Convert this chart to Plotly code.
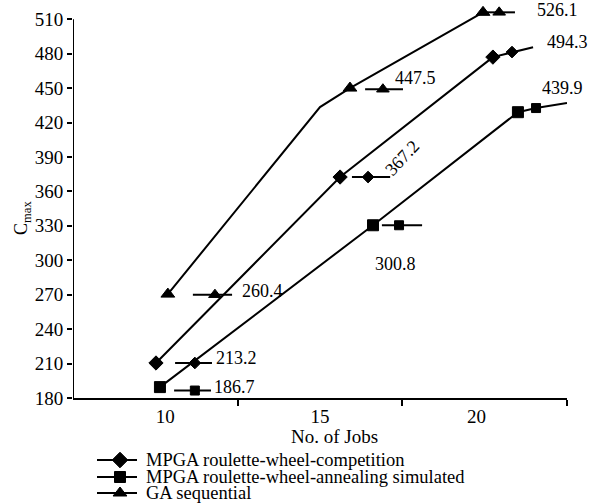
import plotly.graph_objects as go

W, H = 595, 504
# ---------------- data ----------------
# main series (x = No. of Jobs axis position, y = Cmax)
comp_x = [10.02, 15.61, 20.25]
comp_y = [210.5, 372.5, 477.0]
ann_x = [10.14, 16.61, 21.01]
ann_y = [189.5, 330.5, 429.0]
ga_x = [10.38, 15.0, 15.91, 19.95]
ga_y = [270.5, 433.5, 450.0, 516.0]
ga_marker = [True, False, True, True]

# value callouts: (series, key-line x, key-line y, label, label x, label y)
callout_series = ["comp", "ann", "ga", "comp", "ann", "ga", "ga", "comp", "ann"]
callout_line_x = [[10.6, 11.2, 11.72], [10.57, 11.2, 11.69], [11.14, 11.81, 12.33],
                  [15.97, 16.46, 17.13], [16.88, 17.4, 18.1], [16.37, 16.91, 17.52],
                  [19.95, 20.44, 20.92], [20.25, 20.83, 21.47], [21.01, 21.56, 22.5]]
callout_line_y = [[210.5, 210.5, 210.5], [186.5, 186.5, 186.5], [270.0, 270.0, 270.0],
                  [372.5, 372.5, 372.5], [330.5, 330.5, 330.5], [449.0, 449.0, 449.0],
                  [516.0, 516.0, 516.0], [477.0, 481.4, 485.6], [429.0, 432.6, 437.0]]
callout_text = ["213.2", "186.7", "260.4", "367.2", "300.8", "447.5", "526.1", "494.3", "439.9"]
callout_tx = [11.78, 11.72, 12.57, 17.49, 17.28, 17.22, 21.53, 21.83, 21.68]
callout_ty = [214.8, 189.6, 273.0, 389.0, 296.7, 458.7, 518.0, 490.0, 450.0]
callout_anchor = ["left", "left", "left", "center", "center", "left", "left", "left", "left"]
callout_angle = [0, 0, 0, -47, 0, 0, 0, 0, 0]

x_tickvals = [10.3, 15.0, 19.75]
x_ticktext = ["10", "15", "20"]
x_bounds = [12.5, 17.5, 22.5]
y_ticks = list(range(180, 511, 30))

legend_names = ["MPGA roulette-wheel-competition", "MPGA roulette-wheel-annealing simulated", "GA sequential"]
legend_keys = ["comp", "ann", "ga"]

# ---------------- styles ----------------
FONT = "Liberation Serif"
sym = {"comp": "diamond", "ann": "square", "ga": "triangle-up"}
main_size = {"comp": 11, "ann": 11, "ga": 12}
key_size = {"comp": 9, "ann": 9, "ga": 11}
LW = 2
MLINE = dict(color="black", width=1)


def line_trace(x, y, **kw):
    return go.Scatter(x=x, y=y, mode="lines", line=dict(color="black", width=LW),
                      cliponaxis=False, showlegend=False, hoverinfo="skip", **kw)


def marker_trace(x, y, symbol, size, **kw):
    return go.Scatter(x=x, y=y, mode="markers",
                      marker=dict(symbol=symbol, size=size, color="black", line=MLINE, opacity=1),
                      cliponaxis=False, showlegend=False, **kw)


fig = go.Figure()

# main series
fig.add_trace(line_trace(comp_x, comp_y))
fig.add_trace(marker_trace(comp_x, comp_y, sym["comp"], main_size["comp"]))
fig.add_trace(line_trace(ann_x, ann_y))
fig.add_trace(marker_trace(ann_x, ann_y, sym["ann"], main_size["ann"]))
fig.add_trace(line_trace(ga_x, ga_y))
fig.add_trace(marker_trace([x for x, m in zip(ga_x, ga_marker) if m],
                           [y for y, m in zip(ga_y, ga_marker) if m],
                           sym["ga"], main_size["ga"]))

# value callouts (key line + marker + label)
for s, lx, ly, t, tx, ty, anc, ang in zip(callout_series, callout_line_x, callout_line_y,
                                           callout_text, callout_tx, callout_ty,
                                           callout_anchor, callout_angle):
    fig.add_trace(line_trace(lx, ly))
    fig.add_trace(marker_trace([lx[1]], [ly[1]], sym[s], key_size[s]))
    fig.add_annotation(x=tx, y=ty, xref="x", yref="y", text=t, showarrow=False,
                       xanchor=anc, yanchor="middle", textangle=ang,
                       font=dict(family=FONT, size=18, color="black"))

# ---------------- legend (drawn in a pixel-space overlay axis) ----------------
legend_row_y = [460, 477, 493]
legend_key_size = {"comp": 12, "ann": 11, "ga": 12}
for k, name, ry in zip(legend_keys, legend_names, legend_row_y):
    fig.add_trace(line_trace([97, 137], [ry, ry], xaxis="x2", yaxis="y2"))
    fig.add_trace(marker_trace([120], [ry], sym[k], legend_key_size[k], xaxis="x2", yaxis="y2"))
    fig.add_annotation(x=144, y=ry, xref="x2", yref="y2", text=name, showarrow=False,
                       xanchor="left", yanchor="middle",
                       font=dict(family=FONT, size=18.5, color="black"))

# axis titles
fig.add_annotation(x=334, y=436, xref="x2", yref="y2", text="No. of Jobs", showarrow=False,
                   xanchor="center", yanchor="middle",
                   font=dict(family=FONT, size=19, color="black"))
fig.add_annotation(x=22, y=218, xref="x2", yref="y2", text="C<sub>max</sub>", showarrow=False,
                   xanchor="center", yanchor="middle", textangle=-90,
                   font=dict(family=FONT, size=18, color="black"))

# y axis line only up to the 510 tick
fig.add_shape(type="line", xref="x", yref="y", x0=7.5, x1=7.5, y0=180, y1=510,
              line=dict(color="black", width=LW))

fig.update_layout(
    width=W, height=H,
    margin=dict(l=0, r=0, t=0, b=0),
    paper_bgcolor="white", plot_bgcolor="rgba(0,0,0,0)",
    font=dict(family=FONT, color="black"),
    xaxis=dict(domain=[73 / W, 567 / W], range=[7.5, 22.5], showgrid=False, zeroline=False,
               showline=True, linecolor="black", linewidth=LW,
               tickmode="array", tickvals=x_tickvals, ticktext=x_ticktext, ticks="",
               ticklabelstandoff=0,
               minor=dict(tickmode="array", tickvals=x_bounds, ticks="outside",
                          ticklen=6, tickwidth=2, tickcolor="black"),
               tickfont=dict(family=FONT, size=19, color="black"), automargin=False),
    yaxis=dict(domain=[106 / H, 502 / H], range=[180, 525], showgrid=False, zeroline=False,
               showline=False, tickmode="array", tickvals=y_ticks, ticks="outside",
               ticklen=5, tickwidth=2, tickcolor="black",
               tickfont=dict(family=FONT, size=19, color="black"), automargin=False),
    xaxis2=dict(domain=[0, 1], range=[0, W], visible=False, anchor="y2", fixedrange=True),
    yaxis2=dict(domain=[0, 1], range=[H, 0], visible=False, anchor="x2", fixedrange=True),
)

fig.write_html("out.html", config={"displayModeBar": False},
               post_script="document.body.style.margin='0';document.body.style.overflow='hidden';")
